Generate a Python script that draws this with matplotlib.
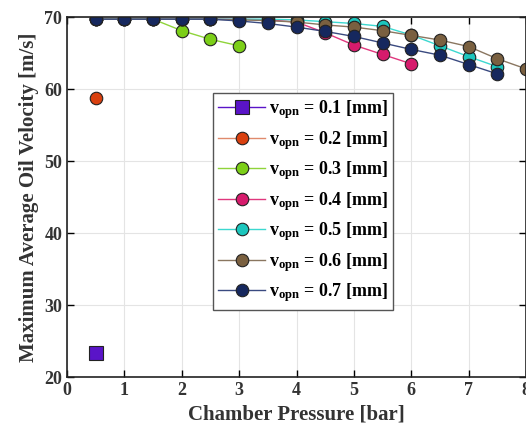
import matplotlib
matplotlib.use("Agg")
import matplotlib.pyplot as plt

# Dane
pressure = [0.5, 1.0, 1.5, 2.0, 2.5, 3.0, 3.5, 4.0, 4.5, 5.0, 5.5, 6.0, 6.5, 7.0, 7.5, 8.0]

v01_x = [0.5]
v01_y = [23.3]
v02_x = [0.5]
v02_y = [58.7]
v03_x = pressure[:6]
v03_y = [69.7, 69.7, 69.7, 68.1, 66.9, 66.0]
v04_x = pressure[:12]
v04_y = [69.7, 69.7, 69.7, 69.7, 69.7, 69.7, 69.6, 69.3, 67.8, 66.1, 64.8, 63.5]
v05_x = pressure[:15]
v05_y = [69.7, 69.7, 69.7, 69.7, 69.7, 69.7, 69.7, 69.6, 69.35, 69.1, 68.7, 67.5, 66.0, 64.5, 63.1]
v06_x = pressure
v06_y = [69.7, 69.7, 69.7, 69.7, 69.7, 69.6, 69.5, 69.3, 68.9, 68.6, 68.1, 67.45, 66.8, 65.9, 64.2, 62.8]
v07_x = pressure[:15]
v07_y = [69.7, 69.7, 69.7, 69.7, 69.7, 69.45, 69.1, 68.6, 68.0, 67.3, 66.4, 65.5, 64.7, 63.4, 62.1]

labels = ["0.1", "0.2", "0.3", "0.4", "0.5", "0.6", "0.7"]

plt.rcParams["font.family"] = "Liberation Serif"
plt.rcParams["mathtext.fontset"] = "custom"
plt.rcParams["mathtext.rm"] = "Liberation Serif"
plt.rcParams["mathtext.bf"] = "Liberation Serif:bold"

fig = plt.figure(figsize=(5.26, 4.34), dpi=100)
ax = fig.add_axes([0.1274, 0.1313, 0.8726, 0.8295])

series = [
    (v01_x, v01_y, "s", "#5a14c8", "#5a14c8", 10.5),
    (v02_x, v02_y, "o", "#e08a6c", "#d9400f", 9),
    (v03_x, v03_y, "o", "#8fd43a", "#7ccf18", 9),
    (v04_x, v04_y, "o", "#e0377d", "#d61b6c", 9),
    (v05_x, v05_y, "o", "#3cd8d0", "#1cc6bd", 9),
    (v06_x, v06_y, "o", "#8a7660", "#7a6040", 9),
    (v07_x, v07_y, "o", "#3a4a80", "#16285e", 9),
]

for (x, y, m, lc, fc, ms), lab in zip(series, labels):
    ax.plot(x, y, marker=m, color=lc, markerfacecolor=fc, markeredgecolor="#222222",
            markeredgewidth=0.8, markersize=ms, linewidth=1.0,
            label=r"$\mathbf{v_{opn}}$ = " + lab + " [mm]")

ax.set_xlim(0, 8)
ax.set_ylim(20, 70)
ax.set_xticks(range(0, 9))
ax.set_yticks(range(20, 71, 10))
ax.grid(True, color="#e4e4e4", linewidth=0.8)
ax.set_axisbelow(True)
ax.tick_params(direction="in", top=True, right=True, labelsize=13, width=1, length=5)
for lab in ax.get_xticklabels() + ax.get_yticklabels():
    lab.set_fontweight("bold")
    lab.set_color("#333333")
for s in ax.spines.values():
    s.set_linewidth(1.2)
    s.set_color("#222222")

ax.set_xlabel("Chamber Pressure [bar]", fontsize=15, fontweight="bold", color="#333333")
ax.set_ylabel("Maximum Average Oil Velocity [m/s]", fontsize=15, fontweight="bold", color="#333333")

leg = ax.legend(loc="upper left", bbox_to_anchor=(0.318, 0.789), borderaxespad=0,
                prop={"weight": "bold", "size": 13}, fancybox=False, framealpha=1,
                edgecolor="#555555", labelspacing=0.42, handlelength=2.6,
                borderpad=0.3, handletextpad=0.2)
leg.get_frame().set_linewidth(1.0)

fig.savefig("out.png", dpi=100)
